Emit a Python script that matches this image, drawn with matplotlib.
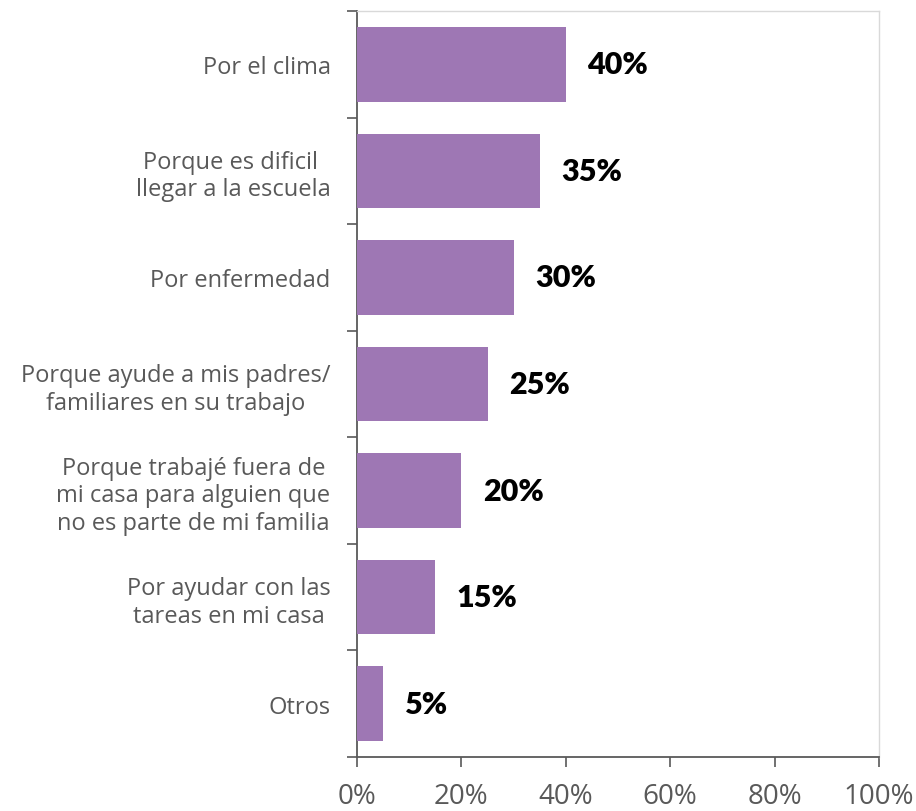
import matplotlib
matplotlib.use("Agg")
import matplotlib.pyplot as plt
import numpy as np

categories = [
    "Por el clima",
    "Porque es dificil \nllegar a la escuela",
    "Por enfermedad",
    "Porque ayude a mis padres/\nfamiliares en su trabajo",
    "Porque trabajé fuera de\nmi casa para alguien que\nno es parte de mi familia",
    "Por ayudar con las\ntareas en mi casa",
    "Otros",
]
values = [40, 35, 30, 25, 20, 15, 5]
xticks = [0, 20, 40, 60, 80, 100]
xticklabels = ["0%", "20%", "40%", "60%", "80%", "100%"]

bar_color = "#9E77B4"
text_gray = "#595959"

fig = plt.figure(figsize=(9.16, 8.12), dpi=100)
ax = fig.add_axes([357/916, 1-758/812, (879-357)/916, (758-12)/812])

n = len(categories)
y = np.arange(n)
ax.barh(y, values, height=0.70, color=bar_color, zorder=3)
ax.set_ylim(n - 0.5, -0.5)
ax.set_xlim(0, 100)

ax.set_yticks(y)
ax.set_yticklabels(categories, fontfamily="Open Sans", fontsize=17,
                   color=text_gray, multialignment="center", linespacing=1.2)
ax.tick_params(axis="y", which="major", length=0, pad=19)
ax.set_yticks(np.arange(-0.5, n, 1.0), minor=True)
ax.tick_params(axis="y", which="minor", length=7, width=1.2, color=text_gray, direction="out")

ax.set_xticks(xticks)
ax.set_xticklabels(xticklabels, fontfamily="Open Sans", fontsize=20, color=text_gray)
ax.tick_params(axis="x", which="major", length=7, width=1.2, color=text_gray,
               direction="out", pad=11)

for s in ["left", "bottom"]:
    ax.spines[s].set_color(text_gray)
    ax.spines[s].set_linewidth(1.3)
for s in ["top", "right"]:
    ax.spines[s].set_color("#D9D9D9")
    ax.spines[s].set_linewidth(1.0)

for yi, v in zip(y, values):
    ax.annotate(f"{v}%", xy=(v, yi), xytext=(15.5, 0), textcoords="offset points",
                ha="left", va="center", fontfamily="Lato", fontweight="heavy",
                fontsize=22, color="black")

fig.savefig("out.png", dpi=100)
